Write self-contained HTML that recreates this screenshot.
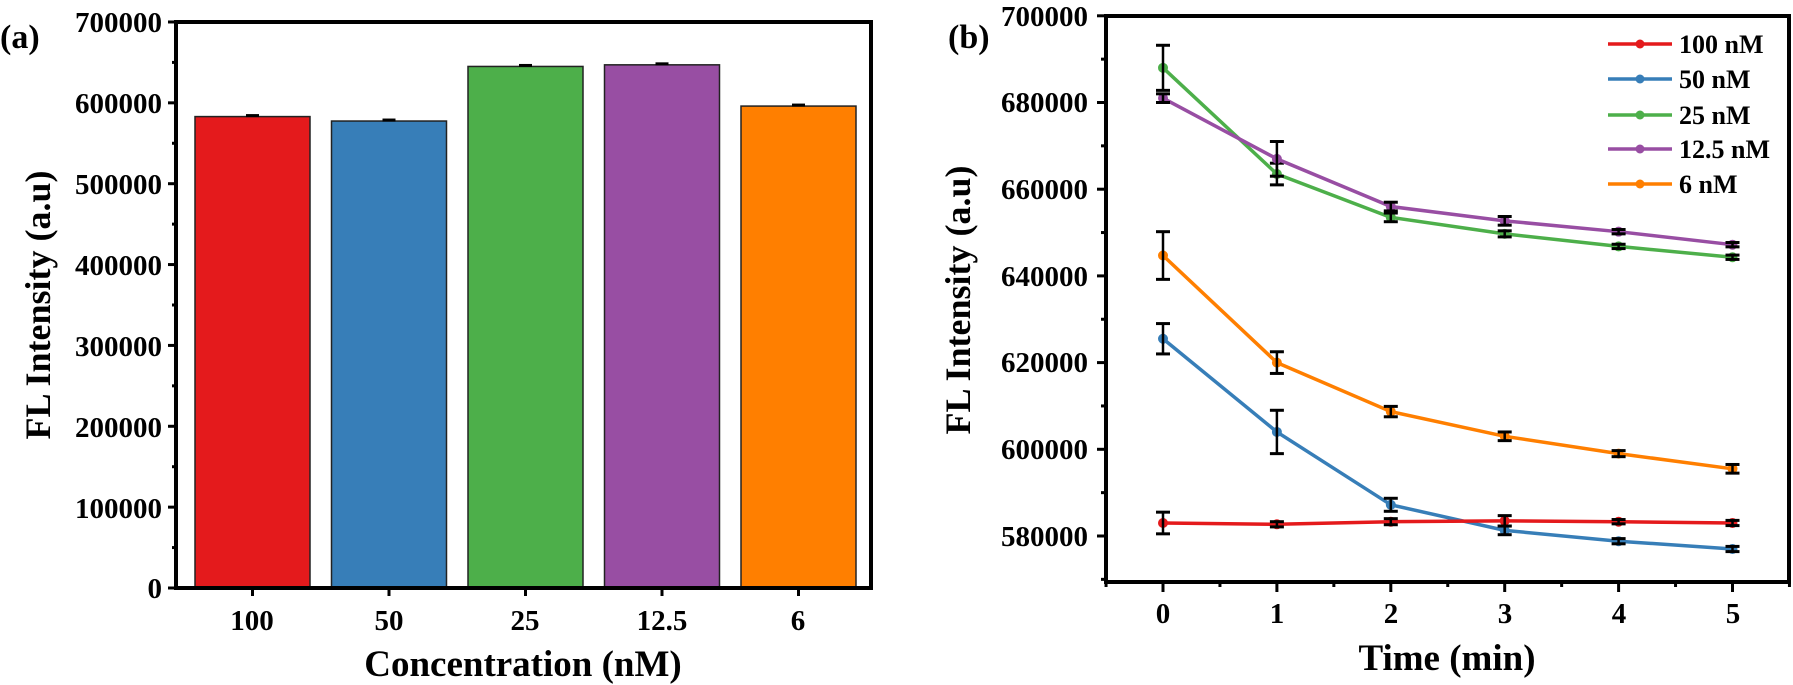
<!DOCTYPE html>
<html><head><meta charset="utf-8"><style>
html,body{margin:0;padding:0;background:#fff;}
svg{display:block;font-family:"Liberation Serif",serif;font-weight:bold;}
</style></head><body>
<svg id="s" width="1793" height="685" viewBox="0 0 1793 685" xmlns="http://www.w3.org/2000/svg">
<rect width="1793" height="685" fill="#fff"/>
<!-- Panel a -->
<text x="0" y="48" font-size="34">(a)</text>
<g id="bars"></g>
<rect x="176" y="22" width="695" height="566" fill="none" stroke="#000" stroke-width="4"/>
<g font-size="29" text-anchor="end">
<text x="162" y="32">700000</text>
<text x="162" y="113">600000</text>
<text x="162" y="194">500000</text>
<text x="162" y="275">400000</text>
<text x="162" y="356">300000</text>
<text x="162" y="437">200000</text>
<text x="162" y="518">100000</text>
<text x="162" y="598">0</text>
</g>
<g font-size="29" text-anchor="middle">
<text x="252" y="630">100</text>
<text x="389" y="630">50</text>
<text x="525" y="630">25</text>
<text x="662" y="630">12.5</text>
<text x="798" y="630">6</text>
</g>
<text x="523" y="676" font-size="37" text-anchor="middle">Concentration (nM)</text>
<text transform="translate(50,305) rotate(-90)" font-size="36" text-anchor="middle">FL Intensity (a.u)</text>

<!-- Panel b -->
<text x="948" y="48" font-size="34">(b)</text>
<g id="lines"></g>
<rect x="1106" y="16" width="683" height="566" fill="none" stroke="#000" stroke-width="4"/>
<g font-size="29" text-anchor="end">
<text x="1088" y="26">700000</text>
<text x="1088" y="112">680000</text>
<text x="1088" y="199">660000</text>
<text x="1088" y="286">640000</text>
<text x="1088" y="372">620000</text>
<text x="1088" y="459">600000</text>
<text x="1088" y="546">580000</text>
</g>
<g font-size="29" text-anchor="middle">
<text x="1163" y="623">0</text>
<text x="1277" y="623">1</text>
<text x="1391" y="623">2</text>
<text x="1505" y="623">3</text>
<text x="1619" y="623">4</text>
<text x="1733" y="623">5</text>
</g>
<text x="1447" y="670" font-size="37" text-anchor="middle">Time (min)</text>
<text transform="translate(970,300) rotate(-90)" font-size="36" text-anchor="middle">FL Intensity (a.u)</text>
<g font-size="26">
<text x="1679" y="53">100 nM</text>
<text x="1679" y="88">50 nM</text>
<text x="1679" y="124">25 nM</text>
<text x="1679" y="158">12.5 nM</text>
<text x="1679" y="193">6 nM</text>
</g>
<g id="leg"></g>
</svg>
<script>
var NS="http://www.w3.org/2000/svg";
function el(p,t,a){var e=document.createElementNS(NS,t);for(var k in a)e.setAttribute(k,a[k]);p.appendChild(e);return e;}
var s=document.getElementById('s');
var cols=['#e41a1c','#377eb8','#4daf4a','#984ea3','#ff7f00'];
// bars
var bg=document.getElementById('bars');
var bv=[583000,577500,645000,647000,596000];
function ya(v){return 588-v/100000*80.86;}
for(var i=0;i<5;i++){var x=195+i*136.5,y=ya(bv[i]);
el(bg,'rect',{x:x,y:y,width:115,height:588-y,fill:cols[i],stroke:'#222','stroke-width':1.5});
el(bg,'line',{x1:x+51,x2:x+64,y1:y-1,y2:y-1,stroke:'#000','stroke-width':3});}
// axis ticks a
for(var k=0;k<=7;k++){var y=ya(k*100000);el(s,'line',{x1:168,x2:176,y1:y,y2:y,stroke:'#000','stroke-width':3});
if(k<7){var ym=ya(k*100000+50000);el(s,'line',{x1:172,x2:176,y1:ym,y2:ym,stroke:'#000','stroke-width':3});}}
for(var i=0;i<5;i++){var x=252.5+i*136.5;el(s,'line',{x1:x,x2:x,y1:588,y2:596,stroke:'#000','stroke-width':3});}
// panel b
function yb(v){return 536-(v-580000)/20000*86.7;}
function xb(t){return 1163+t*113.9;}
for(var v=580000;v<=700000;v+=20000){var y=yb(v);el(s,'line',{x1:1097,x2:1106,y1:y,y2:y,stroke:'#000','stroke-width':3});
var ym=yb(v-10000);if(ym<582)el(s,'line',{x1:1101,x2:1106,y1:ym,y2:ym,stroke:'#000','stroke-width':3});}
for(var t=0;t<=5;t++){el(s,'line',{x1:xb(t),x2:xb(t),y1:582,y2:592,stroke:'#000','stroke-width':3});
el(s,'line',{x1:xb(t+0.5),x2:xb(t+0.5),y1:582,y2:587,stroke:'#000','stroke-width':3});}
el(s,'line',{x1:xb(-0.5),x2:xb(-0.5),y1:582,y2:587,stroke:'#000','stroke-width':3});
var D=[
[[583000,2500],[582700,600],[583300,700],[583500,1200],[583300,500],[583000,600]],
[[625500,3500],[604000,5000],[587200,1500],[581300,1000],[578800,600],[577000,600]],
[[688000,5200],[663500,2500],[653500,1000],[649700,700],[646800,500],[644300,500]],
[[681000,1000],[667000,4000],[656000,1000],[652700,1000],[650200,500],[647200,500]],
[[644700,5500],[620000,2500],[608700,1200],[603000,1000],[599000,700],[595500,1000]]];
var lg=document.getElementById('lines');
var order=[1,4,2,3,0];
order.forEach(function(si){var d=D[si],pts=[];
for(var t=0;t<6;t++)pts.push(xb(t)+','+yb(d[t][0]));
el(lg,'polyline',{points:pts.join(' '),fill:'none',stroke:cols[si],'stroke-width':3.5});
for(var t=0;t<6;t++){var x=xb(t),y=yb(d[t][0]);
el(lg,'circle',{cx:x,cy:y,r:4.5,fill:cols[si],stroke:cols[si],'stroke-width':1});
var y1=yb(d[t][0]+d[t][1]),y2=yb(d[t][0]-d[t][1]);
el(lg,'line',{x1:x,x2:x,y1:y1,y2:y2,stroke:'#000','stroke-width':2.5});
el(lg,'line',{x1:x-7,x2:x+7,y1:y1,y2:y1,stroke:'#000','stroke-width':3});
el(lg,'line',{x1:x-7,x2:x+7,y1:y2,y2:y2,stroke:'#000','stroke-width':3});}});
var L=document.getElementById('leg');var ly=[44,79,115,149,184];
for(var i=0;i<5;i++){el(L,'line',{x1:1608,x2:1672,y1:ly[i],y2:ly[i],stroke:cols[i],'stroke-width':3.5});
el(L,'circle',{cx:1640,cy:ly[i],r:4.5,fill:cols[i]});}
</script>
</body></html>
